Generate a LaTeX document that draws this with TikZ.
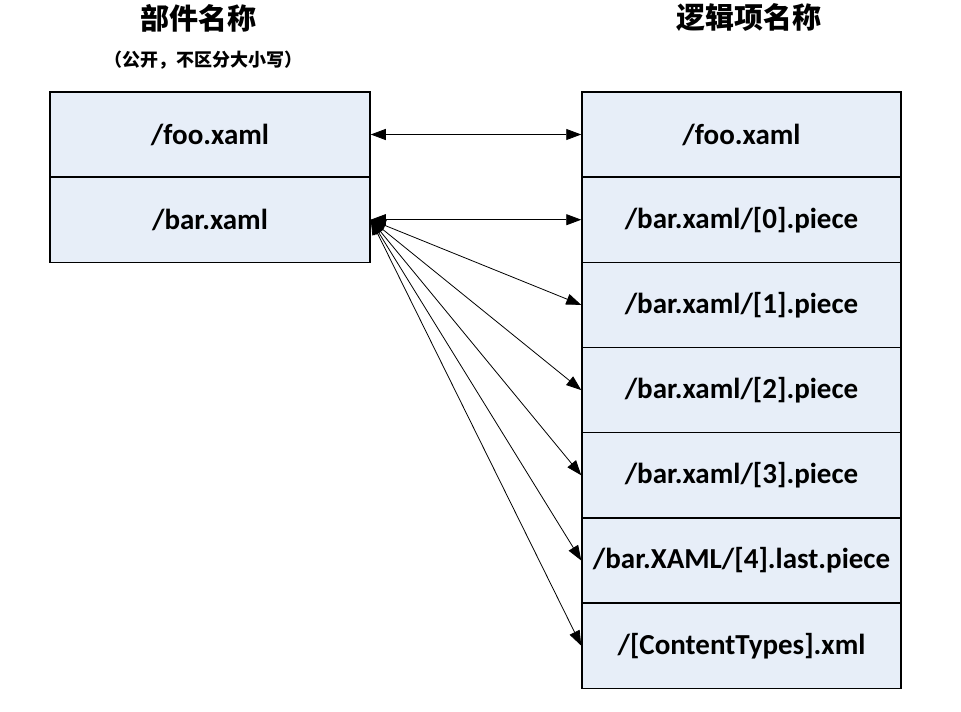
\documentclass[tikz,border=0pt]{standalone}
\usepackage{fontspec}
\setmainfont{Carlito}
\newfontfamily\cjk{Noto Sans CJK SC}
\usetikzlibrary{arrows.meta}
\definecolor{cellfill}{HTML}{E7EEF8}
\tikzset{
  cell/.style={draw=black, line width=1.5pt, fill=cellfill, minimum height=85.2pt, inner sep=0pt, font=\fontsize{29}{33}\selectfont\bfseries},
  lcell/.style={cell, minimum width=320pt},
  rcell/.style={cell, minimum width=319pt},
  link/.style={line width=0.8pt, {Triangle[length=15pt,width=11pt]}-{Triangle[length=15pt,width=11pt]}},
  title/.style={font=\cjk\bfseries\fontsize{29}{33}\selectfont},
  subtitle/.style={font=\cjk\bfseries\fontsize{18}{21}\selectfont}
}
\begin{document}
\begin{tikzpicture}[x=1pt,y=-1pt]
\useasboundingbox (0,0) rectangle (961,712);
\node[title] (t1) at (198,18) {部件名称};
\node[subtitle] (t2) at (203,60) {（公开，不区分大小写）};
\node[title] (t3) at (749,18) {逻辑项名称};

\node[lcell] (l1) at (210,134.5) {/foo.xaml};
\node[lcell] (l2) at (210,219.7) {/bar.xaml};

\node[rcell] (r1) at (741.5,134.5) {/foo.xaml};
\node[rcell] (r2) at (741.5,219.7) {/bar.xaml/[0].piece};
\node[rcell] (r3) at (741.5,304.9) {/bar.xaml/[1].piece};
\node[rcell] (r4) at (741.5,390.1) {/bar.xaml/[2].piece};
\node[rcell] (r5) at (741.5,475.3) {/bar.xaml/[3].piece};
\node[rcell] (r6) at (741.5,560.5) {/bar.XAML/[4].last.piece};
\node[rcell] (r7) at (741.5,645.7) {/[ContentTypes].xml};

\coordinate (src) at (l2.east);
\draw[link] (l1.east) -- (r1.west);
\draw[link] (src) -- (r2.west);
\draw[link] (src) -- (r3.west);
\draw[link] (src) -- (r4.west);
\draw[link] (src) -- (r5.west);
\draw[link] (src) -- (r6.west);
\draw[link] (src) -- (r7.west);
\end{tikzpicture}
\end{document}
